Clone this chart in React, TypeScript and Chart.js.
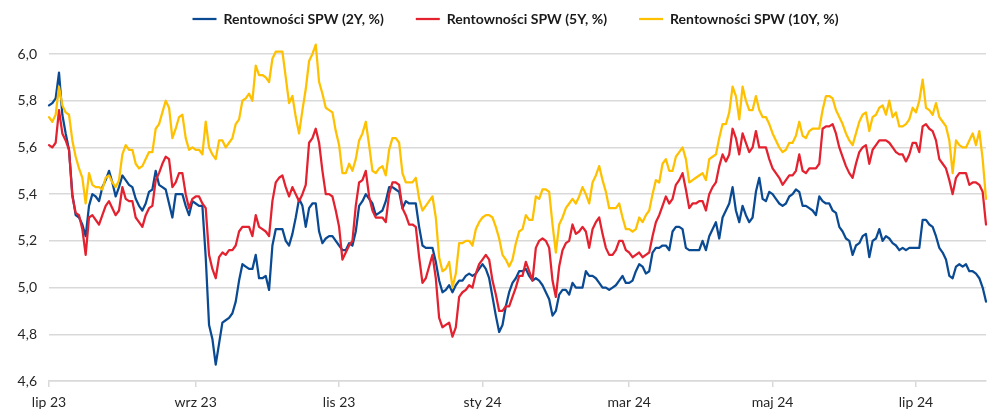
import React, { useEffect, useRef } from 'react';
import { Chart, registerables } from 'chart.js';

Chart.register(...registerables);

const SERIES_NAMES = ['Rentowności SPW (2Y, %)', 'Rentowności SPW (5Y, %)', 'Rentowności SPW (10Y, %)'];
const SERIES_COLORS = ['#0a4a93', '#e3212f', '#ffc000'];
const MONTHS_PL = ['sty', 'lut', 'mar', 'kwi', 'maj', 'cze', 'lip', 'sie', 'wrz', 'paź', 'lis', 'gru'];
const FIRST_DATE = [2023, 6, 3];
const Y_MIN = 4.6;
const Y_MAX = 6.0;
const Y_STEP = 0.2;

// Daily (business day) yields
const spw2Y = [
  5.78, 5.79, 5.81, 5.92, 5.74, 5.66, 5.59, 5.40, 5.31, 5.30,
  5.27, 5.22, 5.35, 5.40, 5.39, 5.37, 5.43, 5.46, 5.50, 5.45,
  5.39, 5.43, 5.48, 5.46, 5.44, 5.43, 5.38, 5.35, 5.33, 5.36,
  5.41, 5.42, 5.50, 5.44, 5.43, 5.42, 5.36, 5.30, 5.40, 5.40,
  5.40, 5.35, 5.31, 5.37, 5.36, 5.35, 5.35, 5.13, 4.84, 4.78,
  4.67, 4.76, 4.85, 4.86, 4.87, 4.89, 4.94, 5.03, 5.10, 5.09,
  5.08, 5.08, 5.14, 5.04, 5.04, 5.05, 4.99, 5.18, 5.25, 5.25,
  5.25, 5.20, 5.18, 5.23, 5.30, 5.38, 5.35, 5.26, 5.34, 5.36,
  5.36, 5.24, 5.19, 5.21, 5.22, 5.22, 5.20, 5.18, 5.16, 5.16,
  5.19, 5.18, 5.24, 5.35, 5.37, 5.40, 5.38, 5.36, 5.31, 5.32,
  5.33, 5.37, 5.43, 5.43, 5.42, 5.41, 5.34, 5.37, 5.36, 5.36,
  5.36, 5.26, 5.18, 5.17, 5.17, 5.17, 5.11, 5.03, 4.98, 4.99,
  5.01, 4.98, 5.01, 5.03, 5.03, 5.05, 5.06, 5.05, 5.06, 5.08,
  5.10, 5.08, 5.04, 4.96, 4.88, 4.81, 4.84, 4.92, 4.98, 5.02,
  5.04, 5.07, 5.07, 5.08, 5.05, 5.03, 5.04, 5.03, 5.01, 4.98,
  4.95, 4.88, 4.90, 4.97, 4.99, 4.99, 4.97, 5.02, 5.00, 5.00,
  5.00, 5.07, 5.05, 5.05, 5.04, 5.02, 5.00, 5.00, 4.99, 5.00,
  5.01, 5.03, 5.05, 5.02, 5.02, 5.03, 5.07, 5.10, 5.09, 5.06,
  5.07, 5.15, 5.17, 5.17, 5.18, 5.18, 5.16, 5.24, 5.26, 5.26,
  5.25, 5.17, 5.16, 5.16, 5.16, 5.16, 5.20, 5.16, 5.22, 5.25,
  5.28, 5.21, 5.30, 5.33, 5.36, 5.43, 5.33, 5.28, 5.35, 5.31,
  5.28, 5.30, 5.41, 5.47, 5.38, 5.37, 5.41, 5.40, 5.38, 5.36,
  5.35, 5.36, 5.39, 5.40, 5.42, 5.41, 5.35, 5.35, 5.34, 5.33,
  5.31, 5.39, 5.37, 5.36, 5.36, 5.33, 5.32, 5.26, 5.24, 5.21,
  5.20, 5.14, 5.18, 5.19, 5.22, 5.23, 5.13, 5.20, 5.21, 5.25,
  5.20, 5.22, 5.21, 5.19, 5.18, 5.16, 5.17, 5.16, 5.17, 5.17,
  5.17, 5.17, 5.29, 5.29, 5.27, 5.26, 5.22, 5.17, 5.15, 5.12,
  5.05, 5.04, 5.09, 5.10, 5.09, 5.10, 5.07, 5.07, 5.06, 5.04,
  5.00, 4.94,
];

const spw5Y = [
  5.61, 5.60, 5.62, 5.76, 5.66, 5.63, 5.59, 5.39, 5.32, 5.31,
  5.25, 5.14, 5.30, 5.31, 5.29, 5.27, 5.31, 5.35, 5.37, 5.34,
  5.31, 5.33, 5.43, 5.38, 5.37, 5.37, 5.30, 5.28, 5.26, 5.31,
  5.34, 5.35, 5.46, 5.49, 5.53, 5.56, 5.55, 5.43, 5.45, 5.49,
  5.49, 5.40, 5.34, 5.38, 5.39, 5.39, 5.36, 5.34, 5.14, 5.08,
  5.04, 5.13, 5.15, 5.14, 5.16, 5.16, 5.18, 5.24, 5.26, 5.26,
  5.26, 5.22, 5.31, 5.26, 5.25, 5.24, 5.22, 5.37, 5.45, 5.47,
  5.48, 5.43, 5.39, 5.43, 5.40, 5.37, 5.40, 5.44, 5.62, 5.64,
  5.68, 5.62, 5.50, 5.40, 5.40, 5.39, 5.33, 5.26, 5.12, 5.15,
  5.18, 5.20, 5.35, 5.45, 5.46, 5.50, 5.39, 5.33, 5.30, 5.30,
  5.30, 5.28, 5.40, 5.45, 5.45, 5.44, 5.34, 5.31, 5.27, 5.27,
  5.26, 5.13, 5.02, 5.04, 5.09, 5.14, 5.04, 4.87, 4.83, 4.84,
  4.85, 4.79, 4.83, 4.96, 4.98, 4.99, 5.01, 5.00, 5.06, 5.10,
  5.12, 5.14, 5.12, 5.03, 4.97, 4.90, 4.90, 4.92, 4.92, 4.96,
  5.00, 5.05, 5.05, 5.11, 5.07, 5.03, 5.17, 5.20, 5.21, 5.20,
  5.17, 5.03, 4.96, 5.09, 5.16, 5.19, 5.20, 5.27, 5.23, 5.24,
  5.26, 5.24, 5.17, 5.25, 5.28, 5.30, 5.23, 5.17, 5.14, 5.14,
  5.16, 5.20, 5.20, 5.16, 5.15, 5.13, 5.14, 5.15, 5.13, 5.14,
  5.15, 5.22, 5.28, 5.31, 5.35, 5.39, 5.36, 5.38, 5.44, 5.46,
  5.49, 5.42, 5.34, 5.36, 5.36, 5.37, 5.37, 5.33, 5.40, 5.43,
  5.45, 5.52, 5.57, 5.54, 5.57, 5.68, 5.64, 5.57, 5.66, 5.62,
  5.58, 5.60, 5.67, 5.60, 5.60, 5.60, 5.55, 5.51, 5.49, 5.47,
  5.44, 5.46, 5.48, 5.48, 5.50, 5.57, 5.50, 5.49, 5.51, 5.51,
  5.51, 5.53, 5.68, 5.69, 5.69, 5.70, 5.66, 5.60, 5.56, 5.52,
  5.49, 5.47, 5.53, 5.58, 5.60, 5.61, 5.53, 5.59, 5.61, 5.63,
  5.63, 5.63, 5.62, 5.60, 5.58, 5.57, 5.57, 5.54, 5.57, 5.62,
  5.62, 5.58, 5.69, 5.70, 5.68, 5.67, 5.63, 5.55, 5.53, 5.51,
  5.46, 5.40, 5.47, 5.49, 5.49, 5.49, 5.44, 5.45, 5.45, 5.44,
  5.41, 5.27,
];

const spw10Y = [
  5.73, 5.71, 5.74, 5.86, 5.78, 5.75, 5.74, 5.63, 5.56, 5.51,
  5.47, 5.36, 5.49, 5.44, 5.43, 5.43, 5.42, 5.47, 5.48, 5.45,
  5.43, 5.46, 5.57, 5.61, 5.59, 5.59, 5.53, 5.51, 5.52, 5.55,
  5.58, 5.58, 5.68, 5.70, 5.75, 5.80, 5.77, 5.64, 5.68, 5.73,
  5.74, 5.64, 5.59, 5.60, 5.59, 5.59, 5.57, 5.71, 5.60, 5.57,
  5.55, 5.63, 5.63, 5.60, 5.62, 5.64, 5.70, 5.72, 5.80, 5.81,
  5.83, 5.80, 5.95, 5.91, 5.91, 5.90, 5.88, 5.98, 6.01, 6.01,
  6.01, 5.90, 5.79, 5.82, 5.73, 5.66, 5.76, 5.85, 5.97, 6.00,
  6.04, 5.88, 5.83, 5.77, 5.76, 5.75, 5.67, 5.61, 5.49, 5.49,
  5.53, 5.50, 5.55, 5.63, 5.66, 5.71, 5.61, 5.50, 5.49, 5.51,
  5.52, 5.48, 5.59, 5.64, 5.64, 5.62, 5.49, 5.45, 5.45, 5.45,
  5.47, 5.38, 5.33, 5.35, 5.37, 5.39, 5.30, 5.13, 5.07, 5.08,
  5.11, 5.00, 5.06, 5.19, 5.19, 5.20, 5.20, 5.18, 5.25, 5.28,
  5.30, 5.31, 5.31, 5.30, 5.26, 5.21, 5.14, 5.12, 5.09, 5.12,
  5.19, 5.24, 5.25, 5.31, 5.29, 5.29, 5.39, 5.38, 5.42, 5.42,
  5.41, 5.27, 5.15, 5.27, 5.30, 5.34, 5.36, 5.38, 5.36, 5.39,
  5.43, 5.40, 5.36, 5.45, 5.48, 5.52, 5.46, 5.41, 5.34, 5.34,
  5.34, 5.36, 5.30, 5.25, 5.25, 5.24, 5.25, 5.30, 5.28, 5.31,
  5.33, 5.40, 5.46, 5.45, 5.53, 5.55, 5.50, 5.50, 5.56, 5.58,
  5.60, 5.55, 5.45, 5.46, 5.47, 5.48, 5.49, 5.46, 5.55, 5.56,
  5.57, 5.64, 5.70, 5.70, 5.75, 5.86, 5.82, 5.72, 5.86, 5.80,
  5.76, 5.76, 5.82, 5.76, 5.73, 5.73, 5.70, 5.66, 5.63, 5.60,
  5.58, 5.59, 5.62, 5.62, 5.65, 5.71, 5.65, 5.64, 5.67, 5.68,
  5.68, 5.68, 5.76, 5.82, 5.82, 5.81, 5.76, 5.73, 5.70, 5.66,
  5.63, 5.61, 5.66, 5.71, 5.74, 5.75, 5.67, 5.73, 5.74, 5.77,
  5.78, 5.74, 5.80, 5.73, 5.75, 5.69, 5.69, 5.70, 5.72, 5.77,
  5.75, 5.80, 5.89, 5.77, 5.76, 5.74, 5.79, 5.73, 5.71, 5.69,
  5.63, 5.49, 5.63, 5.61, 5.60, 5.60, 5.63, 5.66, 5.61, 5.67,
  5.55, 5.38,
];

const FONT = "Lato, 'Open Sans', 'DejaVu Sans', sans-serif";
const TEXT_COLOR = '#262626';
const GRID_COLOR = '#d9d9d9';
const LEGEND_HEIGHT = 74;
const LEGEND_LEFT = 45;

function businessDays(n: number): Date[] {
  const out: Date[] = [];
  const d = new Date(FIRST_DATE[0], FIRST_DATE[1], FIRST_DATE[2]);
  while (out.length < n) {
    const w = d.getDay();
    if (w !== 0 && w !== 6) out.push(new Date(d));
    d.setDate(d.getDate() + 1);
  }
  return out;
}

const legendPlacement = {
  id: 'legendPlacement',
  beforeLayout(chart: any) {
    const lg = chart.legend;
    if (lg && !lg._fitWrapped) {
      const fit = lg.fit;
      lg.fit = function (this: any) {
        fit.call(this);
        this.height = LEGEND_HEIGHT;
      };
      lg._fitWrapped = true;
    }
  },
  afterLayout(chart: any) {
    if (chart.legend) chart.legend.left = LEGEND_LEFT;
  },
};

export default function App() {
  const ref = useRef<HTMLCanvasElement>(null);

  useEffect(() => {
    document.body.style.margin = '0';
    const n = spw2Y.length;
    const dates = businessDays(n);
    const tickIdx: number[] = [];
    const tickLabel = new Map<number, string>();
    dates.forEach((d, i) => {
      const m = d.getMonth();
      const isNewMonth = i === 0 || dates[i - 1].getMonth() !== m;
      if (isNewMonth && m % 2 === 0) {
        tickIdx.push(i);
        tickLabel.set(i, `${MONTHS_PL[m]} ${String(d.getFullYear()).slice(2)}`);
      }
    });
    const yTicks: number[] = [];
    for (let v = Y_MIN; v <= Y_MAX + 1e-9; v += Y_STEP) yTicks.push(Math.round(v * 10) / 10);

    const series = [spw2Y, spw5Y, spw10Y];
    const datasets = series.map((vals, k) => ({
      label: SERIES_NAMES[k],
      data: vals.map((y, i) => ({ x: i, y })),
      borderColor: SERIES_COLORS[k],
      backgroundColor: SERIES_COLORS[k],
      borderWidth: 2.25,
      pointRadius: 0,
      pointHoverRadius: 0,
      tension: 0,
      fill: false,
      clip: false as any,
      borderJoinStyle: 'round' as const,
      borderCapStyle: 'round' as const,
      order: series.length - 1 - k,
    }));

    const chart = new Chart(ref.current as HTMLCanvasElement, {
      type: 'line',
      data: { datasets },
      options: {
        animation: false,
        responsive: true,
        maintainAspectRatio: false,
        devicePixelRatio: 1,
        layout: { padding: { top: -20, right: 13, bottom: 0, left: 0 } },
        plugins: {
          tooltip: { enabled: false },
          legend: {
            display: true,
            position: 'top',
            align: 'center',
            labels: {
              usePointStyle: true,
              pointStyle: 'line',
              pointStyleWidth: 24,
              padding: 32,
              color: '#1a1a1a',
              font: { family: FONT, size: 14, weight: 'bold' },
              sort: (a: any, b: any) => a.datasetIndex - b.datasetIndex,
            },
          },
        },
        scales: {
          x: {
            type: 'linear',
            min: 0,
            max: n - 1,
            afterBuildTicks: (s: any) => {
              s.ticks = tickIdx.map((v) => ({ value: v }));
            },
            afterFit: (s: any) => {
              s.height = 32;
            },
            ticks: {
              autoSkip: false,
              maxRotation: 0,
              padding: 7,
              color: TEXT_COLOR,
              font: { family: FONT, size: 14 },
              callback: (v: any) => tickLabel.get(Number(v)) ?? '',
            },
            grid: {
              display: true,
              drawOnChartArea: false,
              drawTicks: true,
              tickLength: 6,
              color: GRID_COLOR,
              lineWidth: 1.5,
            },
            border: { display: true, color: GRID_COLOR, width: 1.5 },
          },
          y: {
            min: Y_MIN,
            max: Y_MAX,
            afterBuildTicks: (s: any) => {
              s.ticks = yTicks.map((v) => ({ value: v }));
            },
            afterFit: (s: any) => {
              s.width = 49;
            },
            ticks: {
              padding: 12,
              color: TEXT_COLOR,
              font: { family: FONT, size: 14 },
              callback: (v: any) => Number(v).toFixed(1).replace('.', ','),
            },
            grid: { color: GRID_COLOR, lineWidth: 1.5, drawTicks: false },
            border: { display: false },
          },
        },
      },
      plugins: [legendPlacement],
    });
    return () => chart.destroy();
  }, []);

  return (
    <div style={{ position: 'relative', width: 999, height: 413 }}>
      <canvas ref={ref} />
    </div>
  );
}
